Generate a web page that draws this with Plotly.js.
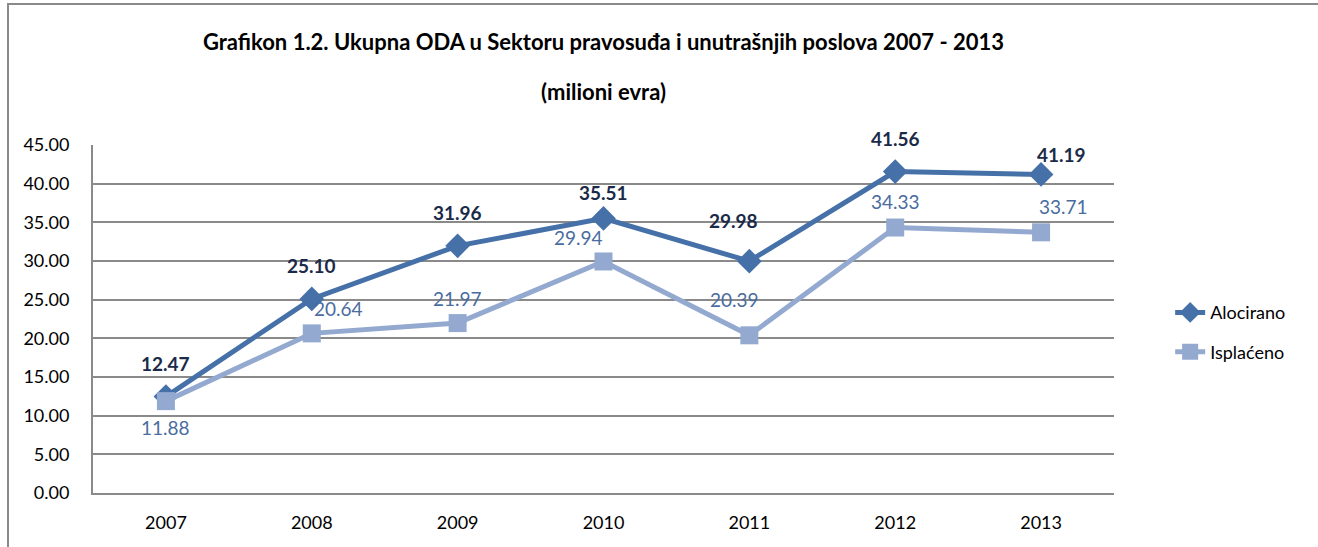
<!DOCTYPE html>
<html>
<head>
<meta charset="utf-8">
<script src="https://cdn.plot.ly/plotly-3.0.1.min.js"></script>
<style>
  html, body { margin: 0; padding: 0; background: #fff; }
  #wrap { position: relative; width: 1318px; height: 547px; overflow: hidden; }
  #chart { position: absolute; left: 0; top: 0; width: 1318px; height: 547px; }
  #frame { position: absolute; left: 7px; top: 3px; width: 1330px; height: 560px;
           border: 2px solid #8a8a8a; pointer-events: none; box-sizing: border-box; }
</style>
</head>
<body>
<div id="wrap">
  <div id="chart"></div>
  <div id="frame"></div>
</div>
<script>
// ---- data ----
const years = ["2007", "2008", "2009", "2010", "2011", "2012", "2013"];
const alocirano = [12.47, 25.10, 31.96, 35.51, 29.98, 41.56, 41.19];
const isplaceno = [11.88, 20.64, 21.97, 29.94, 20.39, 34.33, 33.71];
const seriesNames = ["Alocirano", "Isplaćeno"];
const titleLine1 = "Grafikon 1.2. Ukupna ODA u Sektoru pravosuđa i unutrašnjih poslova 2007 - 2013";
const titleLine2 = "(milioni evra)";

// ---- label offsets (styling only) ----
const aloShift = [[0, 33], [0, 33], [0, 33], [0, 26], [-16, 41], [0, 33], [20, 20]];
const ispShift = [[0, -26], [27, 25], [0, 25], [-25, 24], [-15, 36], [0, 26], [22, 26]];

const FONT = "Lato, 'Open Sans', sans-serif";
const cAlo = "#4671A8";
const cIsp = "#93A9D0";

const traces = [
  {
    x: years, y: alocirano, name: seriesNames[0], type: "scatter", mode: "lines+markers",
    line: { color: cAlo, width: 5 },
    marker: { symbol: "diamond", size: 19, color: cAlo },
    legendgroup: "a", cliponaxis: false
  },
  {
    x: years, y: isplaceno, name: seriesNames[1], type: "scatter", mode: "lines+markers",
    line: { color: cIsp, width: 5 },
    marker: { symbol: "square", size: 18, color: cIsp },
    legendgroup: "b", cliponaxis: false
  }
];

const annotations = [];
years.forEach((yr, i) => {
  annotations.push({
    x: i, y: alocirano[i], xref: "x", yref: "y", text: alocirano[i].toFixed(2),
    showarrow: false, xshift: aloShift[i][0], yshift: aloShift[i][1],
    font: { family: FONT, size: 19, color: "#1B2A48", weight: "bold" }
  });
  annotations.push({
    x: i, y: isplaceno[i], xref: "x", yref: "y", text: isplaceno[i].toFixed(2),
    showarrow: false, xshift: ispShift[i][0], yshift: ispShift[i][1],
    font: { family: FONT, size: 19, color: "#4A6CA0" }
  });
});
annotations.push({
  text: titleLine1, xref: "paper", yref: "paper", x: 0.5, y: 1, yshift: 119,
  showarrow: false, font: { family: FONT, size: 22, color: "#000", weight: "bold" }
});
annotations.push({
  text: titleLine2, xref: "paper", yref: "paper", x: 0.5, y: 1, yshift: 69,
  showarrow: false, font: { family: FONT, size: 22, color: "#000", weight: "bold" }
});

const layout = {
  width: 1318, height: 547,
  margin: { l: 93, r: 204, t: 145, b: 54 },
  paper_bgcolor: "#fff", plot_bgcolor: "#fff",
  font: { family: FONT, size: 18, color: "#000" },
  showlegend: true,
  legend: {
    x: 1.055, y: 0.462, xanchor: "left", yanchor: "middle",
    font: { family: FONT, size: 18, color: "#000" },
    tracegroupgap: 13, bgcolor: "rgba(0,0,0,0)"
  },
  xaxis: {
    type: "category", range: [-0.5, 6.5], showgrid: false,
    showline: true, linecolor: "#8a8a8a", linewidth: 2,
    ticks: "", ticklabelstandoff: 12,
    tickfont: { family: FONT, size: 18, color: "#000" }, fixedrange: true
  },
  yaxis: {
    range: [0, 45], dtick: 5, tickformat: ".2f",
    showgrid: true, gridcolor: "#8a8a8a", gridwidth: 2,
    showline: true, linecolor: "#8a8a8a", linewidth: 2, zeroline: false,
    ticks: "", ticklabelstandoff: 18,
    tickfont: { family: FONT, size: 18, color: "#000" }, fixedrange: true
  },
  annotations: annotations
};

Plotly.newPlot("chart", traces, layout, { displayModeBar: false, staticPlot: true });
</script>
</body>
</html>
